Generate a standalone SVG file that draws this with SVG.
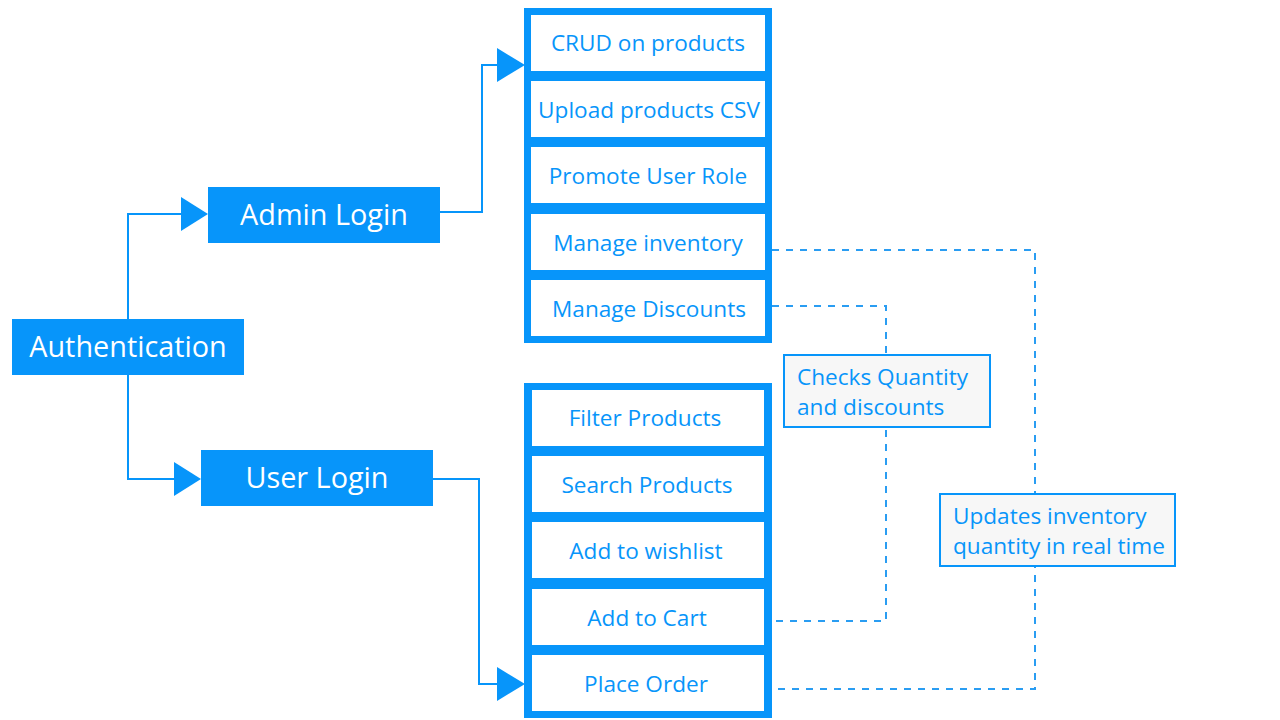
<svg xmlns="http://www.w3.org/2000/svg" width="1280" height="720" viewBox="0 0 1280 720">
<style>
.bg{fill:#ffffff}
.solid{fill:#0795FA}
.item{fill:#ffffff}
.conn{fill:none;stroke:#0795FA;stroke-width:2}
.dash{fill:none;stroke:#2A9DF2;stroke-width:2;stroke-dasharray:7 7}
.head{fill:#0795FA}
.big{font-family:"Open Sans","Noto Sans",sans-serif;font-size:28.8px;fill:#ffffff;text-anchor:middle}
.lbl{font-family:"Open Sans","Noto Sans",sans-serif;font-size:22.6px;fill:#0795FA;text-anchor:middle}
.note{fill:#f7f7f7;stroke:#0795FA;stroke-width:2}
.ntxt{font-family:"Open Sans","Noto Sans",sans-serif;font-size:22.6px;fill:#0795FA}
</style>
<rect class="bg" x="0" y="0" width="1280" height="720"/>
<g id="connectors">
<polyline class="conn" points="128,319 128,214 183,214"/>
<polygon class="head" points="181,197 208,214 181,231"/>
<polyline class="conn" points="128,375 128,479 176,479"/>
<polygon class="head" points="174,462 201,479 174,496"/>
<polyline class="conn" points="440,212 482,212 482,65 499,65"/>
<polygon class="head" points="497,48 525,65 497,82"/>
<polyline class="conn" points="433,479 479,479 479,684 499,684"/>
<polygon class="head" points="497,667 525,684 497,701"/>
<polyline class="dash" points="772,250 1035,250 1035,689 772,689"/>
<polyline class="dash" points="772,306 886,306 886,621 772,621"/>
</g>
<g id="authentication">
<rect class="solid" x="12" y="319" width="232" height="56"/>
<text class="big" x="128" y="357">Authentication</text>
</g>
<g id="admin-login">
<rect class="solid" x="208" y="187" width="232" height="56"/>
<text class="big" x="324" y="225">Admin Login</text>
</g>
<g id="user-login">
<rect class="solid" x="201" y="450" width="232" height="56"/>
<text class="big" x="317" y="488">User Login</text>
</g>
<g id="admin-panel">
<rect class="solid" x="524" y="8" width="248" height="335"/>
<rect class="item" x="531" y="15" width="234" height="56"/>
<rect class="item" x="531" y="81" width="234" height="56"/>
<rect class="item" x="531" y="147" width="234" height="56"/>
<rect class="item" x="531" y="214" width="234" height="56"/>
<rect class="item" x="531" y="280" width="234" height="56"/>
<text class="lbl" x="648" y="51">CRUD on products</text>
<text class="lbl" x="649" y="118">Upload products CSV</text>
<text class="lbl" x="648" y="184">Promote User Role</text>
<text class="lbl" x="648" y="251">Manage inventory</text>
<text class="lbl" x="649" y="317">Manage Discounts</text>
</g>
<g id="user-panel">
<rect class="solid" x="524" y="383" width="248" height="335"/>
<rect class="item" x="532" y="390" width="232" height="56"/>
<rect class="item" x="532" y="456" width="232" height="56"/>
<rect class="item" x="532" y="522" width="232" height="56"/>
<rect class="item" x="532" y="589" width="232" height="56"/>
<rect class="item" x="532" y="655" width="232" height="56"/>
<text class="lbl" x="645" y="426">Filter Products</text>
<text class="lbl" x="647" y="493">Search Products</text>
<text class="lbl" x="646" y="559">Add to wishlist</text>
<text class="lbl" x="647" y="626">Add to Cart</text>
<text class="lbl" x="646" y="692">Place Order</text>
</g>
<g id="note-checks">
<rect class="note" x="784" y="355" width="206" height="72"/>
<text class="ntxt" x="797" y="385">Checks Quantity</text>
<text class="ntxt" x="797" y="415">and discounts</text>
</g>
<g id="note-updates">
<rect class="note" x="940" y="494" width="235" height="72"/>
<text class="ntxt" x="953" y="524">Updates inventory</text>
<text class="ntxt" x="953" y="554">quantity in real time</text>
</g>
</svg>
